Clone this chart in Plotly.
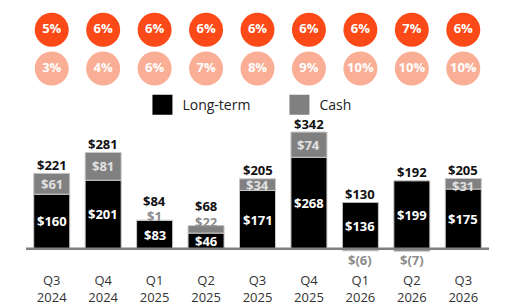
import plotly.graph_objects as go

quarters = ["Q3", "Q4", "Q1", "Q2", "Q3", "Q4", "Q1", "Q2", "Q3"]
years = ["2024", "2024", "2025", "2025", "2025", "2025", "2026", "2026", "2026"]
long_term = [160, 201, 83, 46, 171, 268, 136, 199, 175]
cash = [61, 81, 1, 22, 34, 74, -6, -7, 31]
totals = [221, 281, 84, 68, 205, 342, 130, 192, 205]
rate_top = ["5%", "6%", "6%", "6%", "6%", "6%", "6%", "7%", "6%"]
rate_bottom = ["3%", "4%", "6%", "7%", "8%", "9%", "10%", "10%", "10%"]

cats = [f"{q}<br>{y}" for q, y in zip(quarters, years)]

FONT = "Open Sans"
BLACK = "#000000"
GRAY = "#808080"
DARK_ORANGE = "#FB4A17"
LIGHT_ORANGE = "#F9AE95"
PLOT_H = 262
SMALL_CASH = 25
TIGHT_CASH = 33


def money(v):
    return f"$({abs(v)})" if v < 0 else f"${v}"


fig = go.Figure()
fig.add_trace(go.Bar(x=cats, y=long_term, marker=dict(color=BLACK, line=dict(color="#c8c8c8", width=1)),
                     width=0.7, showlegend=False, hoverinfo="skip"))
fig.add_trace(go.Bar(x=cats, y=cash, marker=dict(color=GRAY, line=dict(color="#c8c8c8", width=1)),
                     width=0.7, showlegend=False, hoverinfo="skip"))

# legend entries
fig.add_trace(go.Scatter(x=[None], y=[None], mode="markers", name="Long-term",
                         marker=dict(symbol="square", size=16, color=BLACK,
                                     line=dict(color=BLACK, width=4))))
fig.add_trace(go.Scatter(x=[None], y=[None], mode="markers", name="Cash",
                         marker=dict(symbol="square", size=16, color=GRAY,
                                     line=dict(color=GRAY, width=4))))

# rate circles
fig.add_trace(go.Scatter(x=cats, y=[30] * len(cats), yaxis="y2", mode="markers+text", text=rate_top,
                         textposition="middle center", showlegend=False, hoverinfo="skip",
                         marker=dict(size=34, color=DARK_ORANGE),
                         textfont=dict(family=FONT, size=13, color="white", weight="bold")))
fig.add_trace(go.Scatter(x=cats, y=[69] * len(cats), yaxis="y2", mode="markers+text", text=rate_bottom,
                         textposition="middle center", showlegend=False, hoverinfo="skip",
                         marker=dict(size=34, color=LIGHT_ORANGE),
                         textfont=dict(family=FONT, size=13, color="white", weight="bold")))

ann = []
for c, lt, cs, tot in zip(cats, long_term, cash, totals):
    ann.append(dict(x=c, y=lt / 2, text=money(lt), showarrow=False,
                    font=dict(family=FONT, size=13, color="white", weight="bold")))
    top = lt + max(cs, 0)
    tshift = 8.5
    if cs < 0:
        ann.append(dict(x=c, y=cs, text=money(cs), showarrow=False, yanchor="middle", yshift=-9,
                        font=dict(family=FONT, size=13, color="#8c8c8c", weight="bold")))
    elif cs < SMALL_CASH:
        ann.append(dict(x=c, y=top, text=money(cs), showarrow=False, yanchor="middle", yshift=4,
                        font=dict(family=FONT, size=13, color="#8c8c8c", weight="bold")))
        tshift = 19.5
    else:
        ann.append(dict(x=c, y=lt + cs / 2, text=money(cs), showarrow=False, yanchor="middle",
                        yshift=-2 if cs < TIGHT_CASH else 0,
                        font=dict(family=FONT, size=13, color="#e0e0e0", weight="bold")))
    ann.append(dict(x=c, y=top, text=money(tot), showarrow=False, yanchor="middle", yshift=tshift,
                    font=dict(family=FONT, size=13, color="#111111", weight="bold")))

fig.update_layout(
    width=509, height=306,
    margin=dict(l=26, r=20, t=0, b=44),
    paper_bgcolor="white", plot_bgcolor="white",
    barmode="relative",
    annotations=ann,
    shapes=[dict(type="line", xref="x", yref="y", x0=-0.5, x1=8.5, y0=0, y1=0,
                 line=dict(color=GRAY, width=2.5), layer="above")],
    xaxis=dict(range=[-0.5, 8.5], showgrid=False, zeroline=False, showline=False, ticks="",
               tickfont=dict(family=FONT, size=13, color="#333333"), ticklabelstandoff=11,
               fixedrange=True),
    yaxis=dict(range=[-32.8, 728.8], visible=False, fixedrange=True),
    yaxis2=dict(range=[PLOT_H, 0], overlaying="y", visible=False, fixedrange=True),
    legend=dict(orientation="h", x=0.2515, xanchor="left", y=1 - 106 / PLOT_H, yanchor="middle",
                font=dict(family=FONT, size=14, color="#222222"), entrywidth=92,
                bgcolor="rgba(0,0,0,0)"),
    showlegend=True,
)

fig.write_html("out.html")
